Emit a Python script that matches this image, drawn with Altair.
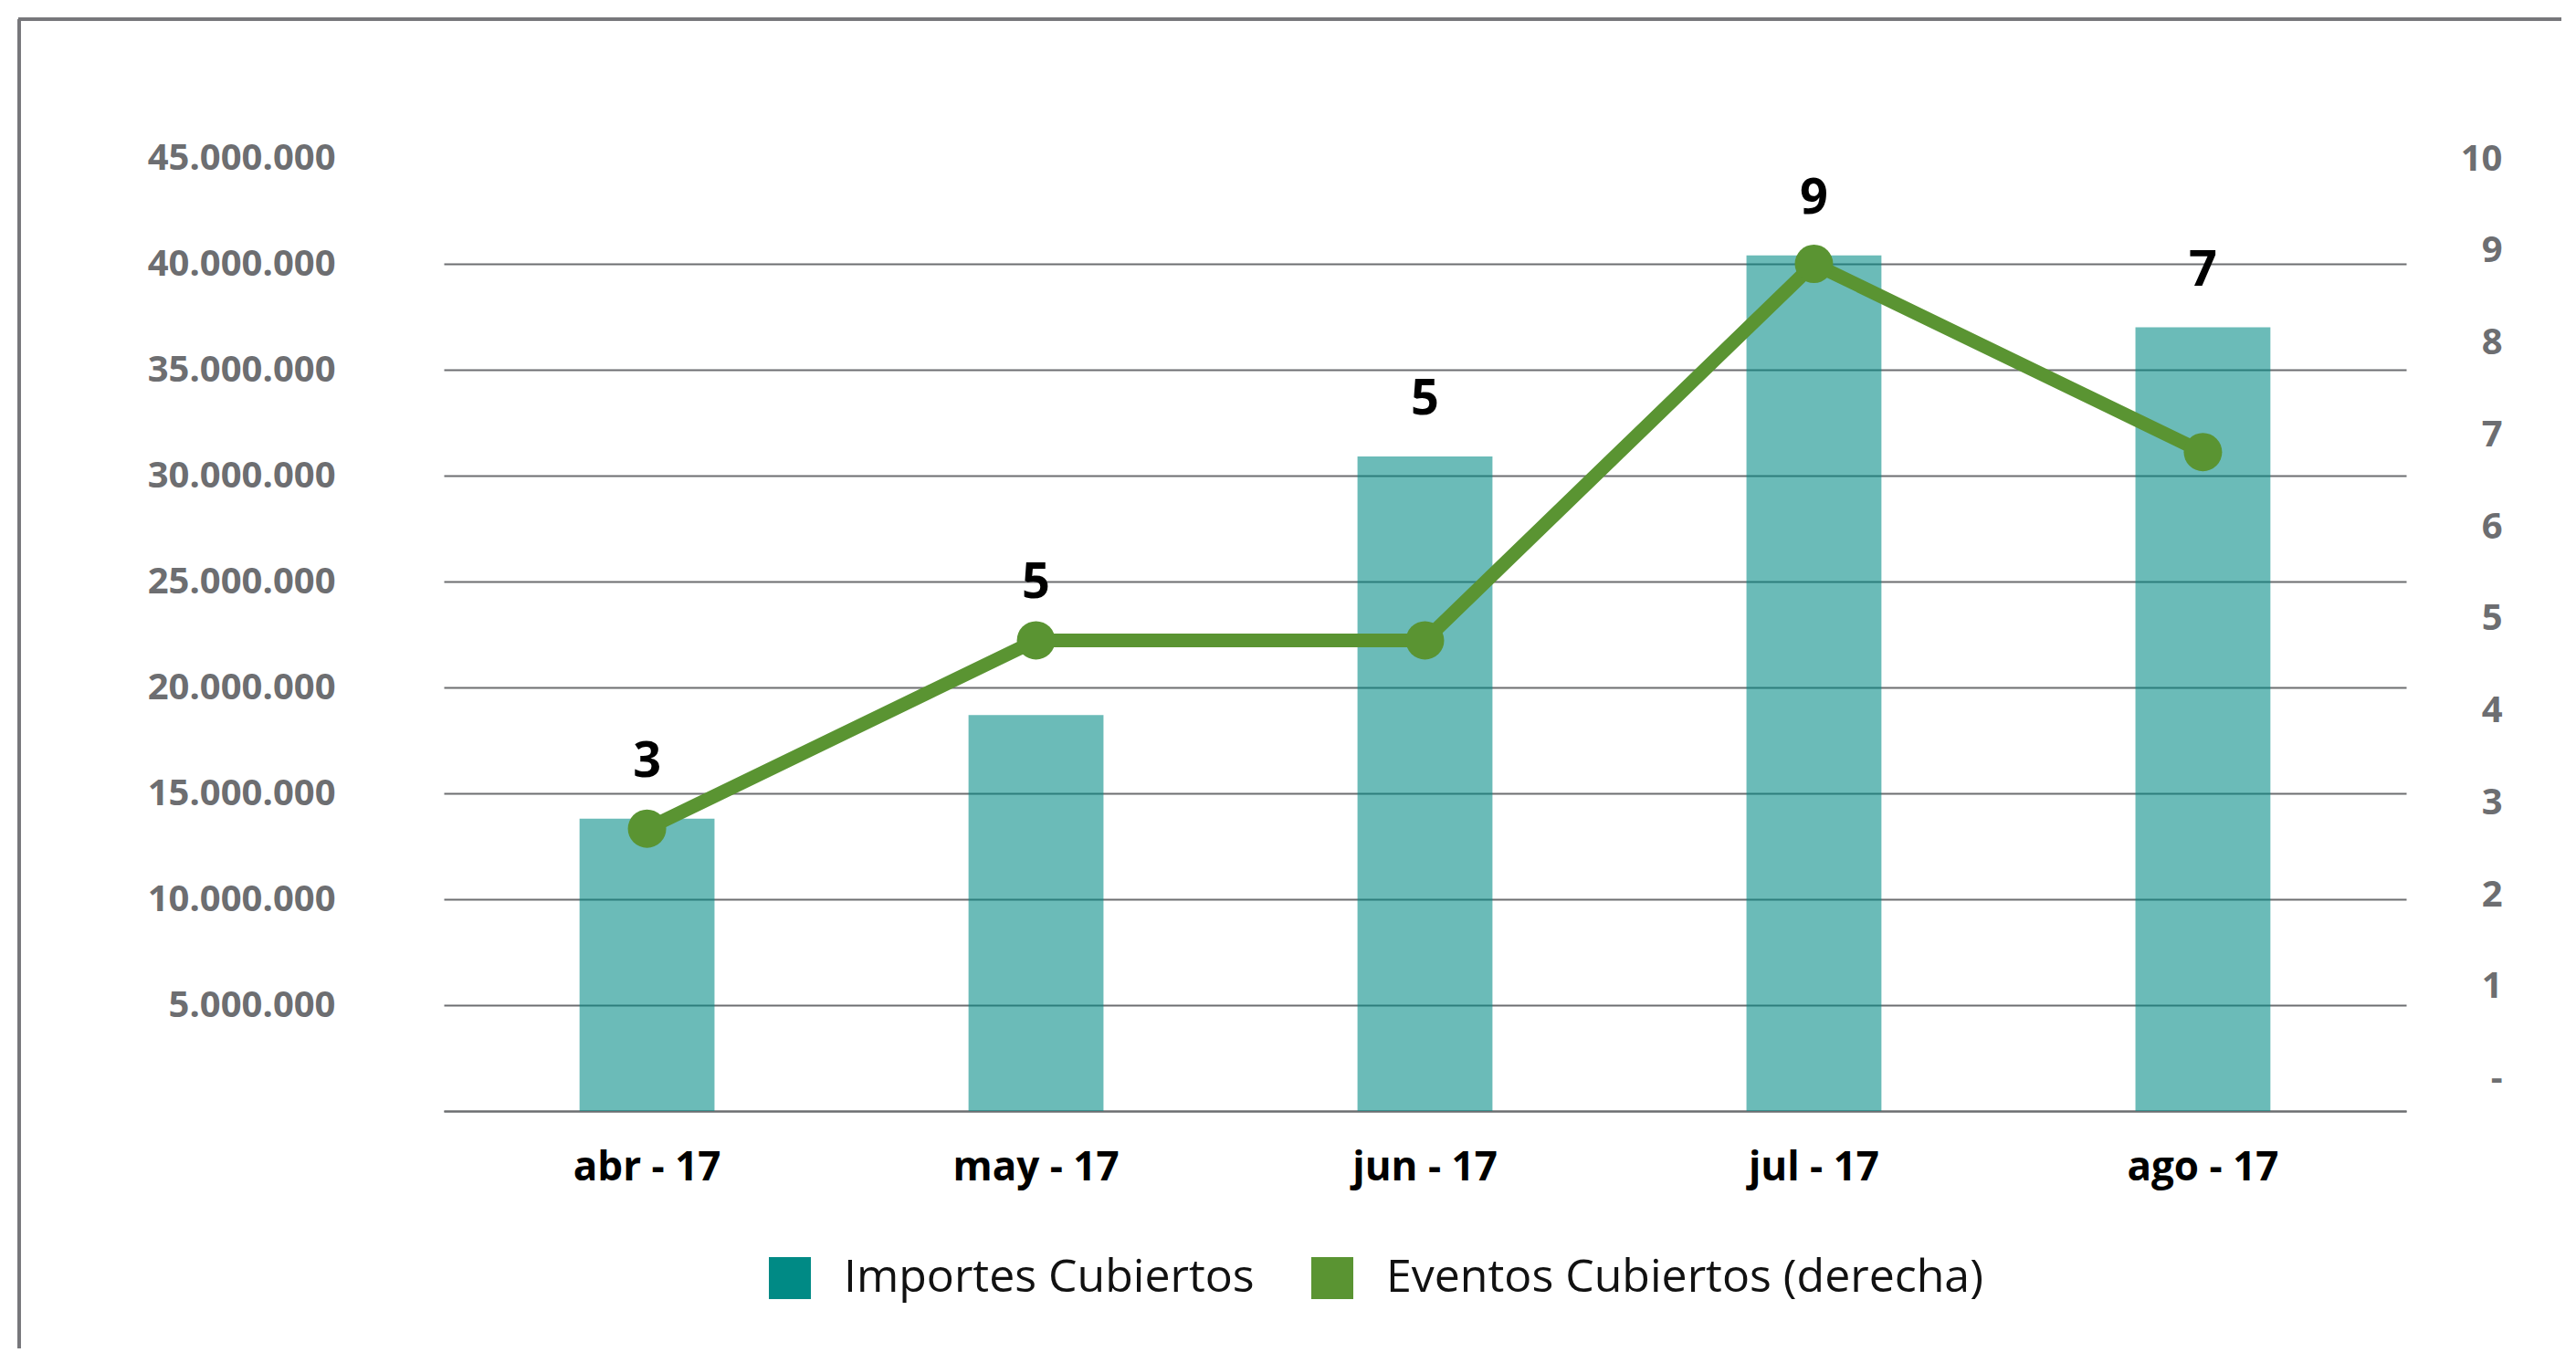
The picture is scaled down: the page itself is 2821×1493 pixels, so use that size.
import altair as alt
import pandas as pd

meses = ["abr - 17", "may - 17", "jun - 17", "jul - 17", "ago - 17"]
importes = [13_800_000, 18_700_000, 30_900_000, 40_400_000, 37_000_000]
eventos = [3, 5, 5, 9, 7]
series = ["Importes Cubiertos", "Eventos Cubiertos (derecha)"]

left_ticks = [0, 5_000_000, 10_000_000, 15_000_000, 20_000_000, 25_000_000,
              30_000_000, 35_000_000, 40_000_000, 45_000_000]
right_ticks = [0, 1, 2, 3, 4, 5, 6, 7, 8, 9, 10]

df = pd.DataFrame({
    "mes": meses,
    "importes": importes,
    "eventos": eventos,
    "serie": [series[0]] * len(meses),
})

TEAL = "#008A85"
GREEN = "#5A9432"
GRAY = "#6D6E71"
FONT = "Open Sans"

LEFT_MAX = 45_000_000
LINE_MAX = 10.125

x_enc = alt.X(
    "mes:N",
    sort=meses,
    title=None,
    scale=alt.Scale(paddingInner=0.653, paddingOuter=0.349),
    axis=alt.Axis(
        labelFont=FONT, labelFontSize=44, labelFontWeight="bold", labelColor="#000000",
        labelAngle=0, labelBaseline="alphabetic", labelPadding=75, labelLimit=1000,
        ticks=False, domain=True, domainColor=GRAY, domainWidth=2, grid=False,
    ),
)

base = alt.Chart(df)

bars = base.mark_bar(opacity=0.58).encode(
    x=x_enc,
    y=alt.Y(
        "importes:Q",
        title=None,
        scale=alt.Scale(domain=[0, LEFT_MAX], nice=False, zero=True),
        axis=alt.Axis(
            orient="left", values=left_ticks,
            labelExpr="datum.value == 0 ? '' : replace(format(datum.value, ','), regexp(',', 'g'), '.')",
            labelFont=FONT, labelFontSize=40, labelFontWeight="bold", labelColor=GRAY,
            labelPadding=119, labelLimit=1000, ticks=False, domain=False,
            grid=True, gridColor=GRAY, gridWidth=2,
            gridOpacity={"condition": {"test": "datum.value >= 45000000", "value": 0}, "value": 1},
        ),
    ),
    color=alt.Color(
        "serie:N",
        scale=alt.Scale(domain=series, range=[TEAL, GREEN]),
        legend=alt.Legend(
            title=None, orient="none", direction="horizontal",
            legendX=354, legendY=1202,
            symbolType="square", symbolSize=2116, symbolOpacity=1, symbolStrokeWidth=0,
            labelFont=FONT, labelFontSize=50, labelColor="#111111",
            labelOffset=34, columnPadding=60, labelLimit=1000,
        ),
    ),
)

y_line = alt.Y("eventos:Q", title=None,
               scale=alt.Scale(domain=[0, LINE_MAX], nice=False), axis=None)

line = base.mark_line(color=GREEN, strokeWidth=15).encode(x=x_enc, y=y_line)
points = base.mark_point(filled=True, color=GREEN, size=1760, opacity=1).encode(x=x_enc, y=y_line)
labels = base.transform_calculate(
    lab=f"max(datum.eventos, datum.importes / {LEFT_MAX} * {LINE_MAX})"
).mark_text(
    font=FONT, fontSize=54, fontWeight="bold", color="#000000",
    baseline="middle", align="center", dy=-62,
).encode(
    x=x_enc,
    y=alt.Y("lab:Q", title=None, scale=alt.Scale(domain=[0, LINE_MAX], nice=False), axis=None),
    text=alt.Text("eventos:Q"),
)

line_group = alt.layer(line, points, labels)

right_axis = base.mark_point(opacity=0).encode(
    x=x_enc,
    y=alt.Y(
        "eventos:Q", title=None,
        scale=alt.Scale(domain=[-0.35, 10.01], nice=False, zero=False),
        axis=alt.Axis(
            orient="right", values=right_ticks,
            labelExpr="datum.value == 0 ? '-' : datum.label",
            labelFont=FONT, labelFontSize=40, labelFontWeight="bold", labelColor=GRAY,
            labelAlign="right", labelPadding=105, labelLimit=1000,
            ticks=False, domain=False, grid=False,
        ),
    ),
)

frame_left = alt.Chart(df).mark_rule(color="#76767A", strokeWidth=3).encode(
    x=alt.value(-465), y=alt.value(-152), y2=alt.value(1400)
)
frame_top = alt.Chart(df).mark_rule(color="#76767A", strokeWidth=3).encode(
    x=alt.value(-466), x2=alt.value(2400), y=alt.value(-152)
)

chart = alt.layer(bars, line_group, right_axis, frame_left, frame_top).resolve_scale(
    y="independent"
).properties(
    width=2149,
    height=1044,
    background="white",
    autosize=alt.AutoSizeParams(type="none"),
    padding={"left": 478, "top": 165, "right": 170, "bottom": 260},
).configure_view(stroke=None)

chart.save("out.html", embed_options={"renderer": "svg", "actions": False})
